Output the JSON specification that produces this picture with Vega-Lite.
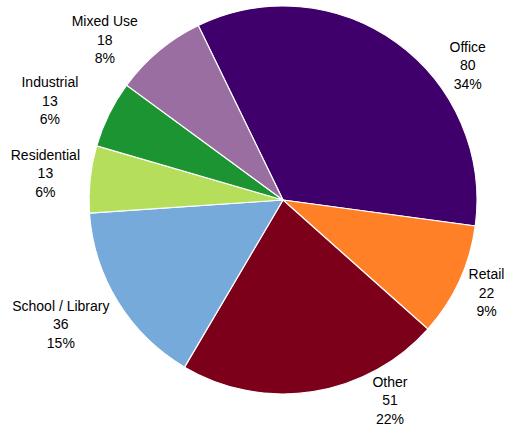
{
  "$schema": "https://vega.github.io/schema/vega-lite/v6.json",
  "width": 388,
  "height": 388,
  "autosize": "none",
  "padding": {"left": 89, "top": 6, "right": 29, "bottom": 32},
  "background": "white",
  "config": {"view": {"stroke": null}, "text": {"font": "Liberation Sans", "fontSize": 14, "lineBreak": "\n", "lineHeight": 18.5, "color": "#000000", "align": "center", "baseline": "middle", "dy": -18.5}},
  "data": {"values": [
    {"category": "Office", "value": 80, "pct": "34%", "rank": 1},
    {"category": "Retail", "value": 22, "pct": "9%", "rank": 2},
    {"category": "Other", "value": 51, "pct": "22%", "rank": 3},
    {"category": "School / Library", "value": 36, "pct": "15%", "rank": 4},
    {"category": "Residential", "value": 13, "pct": "6%", "rank": 5},
    {"category": "Industrial", "value": 13, "pct": "6%", "rank": 6},
    {"category": "Mixed Use", "value": 18, "pct": "8%", "rank": 7}
  ]},
  "transform": [{"calculate": "datum.category + '\\n' + datum.value + '\\n' + datum.pct", "as": "label"}],
  "encoding": {
    "theta": {"field": "value", "type": "quantitative", "stack": true, "scale": {"range": [-0.452, 5.8312]}},
    "order": {"field": "rank", "type": "quantitative", "sort": "ascending"}
  },
  "layer": [
    {
      "mark": {"type": "arc", "radius": 194, "stroke": "white", "strokeWidth": 1.2},
      "encoding": {
        "color": {"field": "category", "type": "nominal", "legend": null,
          "scale": {"domain": ["Office", "Retail", "Other", "School / Library", "Residential", "Industrial", "Mixed Use"],
                    "range": ["#40006c", "#ff8027", "#7c0019", "#75aadb", "#b5df5a", "#1c9432", "#9a6ea1"]}}
      }
    },
    {"mark": {"type": "text", "radius": 228, "thetaOffset": 0.318},
     "encoding": {"text": {"field": "label"}, "opacity": {"condition": {"test": "datum.category === 'Office'", "value": 1}, "value": 0}}},
    {"mark": {"type": "text", "radius": 224, "thetaOffset": 0},
     "encoding": {"text": {"field": "label"}, "opacity": {"condition": {"test": "datum.category === 'Retail'", "value": 1}, "value": 0}}},
    {"mark": {"type": "text", "radius": 228, "thetaOffset": -0.333},
     "encoding": {"text": {"field": "label"}, "opacity": {"condition": {"test": "datum.category === 'Other'", "value": 1}, "value": 0}}},
    {"mark": {"type": "text", "radius": 255, "thetaOffset": 0.04},
     "encoding": {"text": {"field": "label"}, "opacity": {"condition": {"test": "datum.category === 'School / Library'", "value": 1}, "value": 0}}},
    {"mark": {"type": "text", "radius": 239, "thetaOffset": 0},
     "encoding": {"text": {"field": "label"}, "opacity": {"condition": {"test": "datum.category === 'Residential'", "value": 1}, "value": 0}}},
    {"mark": {"type": "text", "radius": 253, "thetaOffset": -0.059},
     "encoding": {"text": {"field": "label"}, "opacity": {"condition": {"test": "datum.category === 'Industrial'", "value": 1}, "value": 0}}},
    {"mark": {"type": "text", "radius": 239, "thetaOffset": -0.147},
     "encoding": {"text": {"field": "label"}, "opacity": {"condition": {"test": "datum.category === 'Mixed Use'", "value": 1}, "value": 0}}}
  ]
}
